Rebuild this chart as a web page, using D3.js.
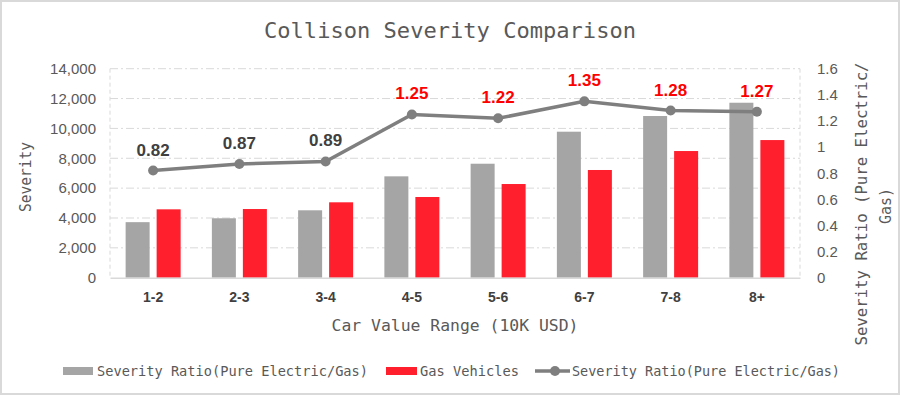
<!DOCTYPE html>
<html lang="en">
  <head>
    <meta charset="UTF-8" />
    <script src="https://d3js.org/d3.v7.min.js"></script>
    <title>Collison Severity Comparison</title>
    <style>
      body { margin: 0; background: #fff; }
    </style>
  </head>
  <body>
    <script>
      const categories = ["1-2", "2-3", "3-4", "4-5", "5-6", "6-7", "7-8", "8+"];
      const electricSeverity = [3720, 3980, 4515, 6790, 7635, 9780, 10830, 11720];
      const gasSeverity = [4580, 4600, 5050, 5405, 6275, 7215, 8485, 9220];
      const severityRatio = [0.82, 0.87, 0.89, 1.25, 1.22, 1.35, 1.28, 1.27];
      const leftTicks = [0, 2000, 4000, 6000, 8000, 10000, 12000, 14000];
      const rightTicks = [0, 0.2, 0.4, 0.6, 0.8, 1, 1.2, 1.4, 1.6];

      const W = 900, H = 395;
      const mono = "'DejaVu Sans Mono', monospace";
      const sans = "'Liberation Sans', Arial, sans-serif";
      const plot = { left: 110, right: 800, top: 68.7, bottom: 277.7 };

      let svg = d3.select("body").append("svg").attr("width", W).attr("height", H);

      svg.append("rect")
        .attr("x", 1).attr("y", 1).attr("width", W - 2).attr("height", H - 2)
        .attr("fill", "#fff").attr("stroke", "#d9d9d9").attr("stroke-width", 2);

      let x = d3.scaleBand().domain(categories).range([plot.left, plot.right]);
      let y = d3.scaleLinear().domain([0, 14000]).range([plot.bottom, plot.top]);
      let y2 = d3.scaleLinear().domain([0, 1.6]).range([plot.bottom, plot.top]);

      // gridlines
      svg.append("g").selectAll("line").data(leftTicks.slice(1)).join("line")
        .attr("x1", plot.left).attr("x2", plot.right)
        .attr("y1", d => y(d)).attr("y2", d => y(d))
        .attr("stroke", "#d9d9d9").attr("stroke-width", 1)
        .attr("stroke-dasharray", "8,3,2,3");

      // plot area side borders (dashed)
      [plot.left, plot.right].forEach(px => {
        svg.append("line")
          .attr("x1", px).attr("x2", px).attr("y1", plot.top).attr("y2", plot.bottom)
          .attr("stroke", "#d9d9d9").attr("stroke-dasharray", "4,3");
      });

      // left axis labels
      let yAxis = d3.axisLeft(y).tickValues(leftTicks).tickSize(0).tickPadding(14)
        .tickFormat(d3.format(","));
      let gy = svg.append("g").attr("transform", `translate(${plot.left},0)`).call(yAxis);
      gy.select(".domain").remove();
      gy.selectAll("text").attr("fill", "#595959").style("font", `15px ${sans}`);

      // right axis labels
      let y2Axis = d3.axisRight(y2).tickValues(rightTicks).tickSize(0).tickPadding(17)
        .tickFormat(d => d3.format("")(+d.toFixed(1)));
      let gy2 = svg.append("g").attr("transform", `translate(${plot.right},0)`).call(y2Axis);
      gy2.select(".domain").remove();
      gy2.selectAll("text").attr("fill", "#595959").style("font", `15px ${sans}`);

      // bars
      const barW = 24, gap = 7;
      let groups = svg.append("g").selectAll("g").data(categories).join("g")
        .attr("transform", d => `translate(${x(d) + x.bandwidth() / 2},0)`);
      groups.append("rect")
        .attr("x", -gap / 2 - barW)
        .attr("width", barW)
        .attr("y", (d, i) => y(electricSeverity[i]))
        .attr("height", (d, i) => plot.bottom - y(electricSeverity[i]))
        .attr("fill", "#a5a5a5");
      groups.append("rect")
        .attr("x", gap / 2)
        .attr("width", barW)
        .attr("y", (d, i) => y(gasSeverity[i]))
        .attr("height", (d, i) => plot.bottom - y(gasSeverity[i]))
        .attr("fill", "#ff1f2d");

      // x axis
      let xAxis = d3.axisBottom(x).tickSize(0).tickPadding(14);
      let gx = svg.append("g").attr("transform", `translate(0,${plot.bottom})`).call(xAxis);
      gx.select(".domain").attr("stroke", "#d9d9d9").attr("stroke-width", 1.5);
      gx.selectAll("text").attr("fill", "#404040")
        .style("font", `bold 14px ${sans}`);

      // ratio line
      let cx = d => x(d) + x.bandwidth() / 2;
      let line = d3.line().x((d, i) => cx(categories[i])).y(d => y2(d));
      svg.append("path").datum(severityRatio)
        .attr("d", line).attr("fill", "none")
        .attr("stroke", "#7f7f7f").attr("stroke-width", 3.5);
      svg.append("g").selectAll("circle").data(severityRatio).join("circle")
        .attr("cx", (d, i) => cx(categories[i])).attr("cy", d => y2(d))
        .attr("r", 5).attr("fill", "#7f7f7f");
      svg.append("g").selectAll("text").data(severityRatio).join("text")
        .attr("x", (d, i) => cx(categories[i]))
        .attr("y", d => y2(d) - 15)
        .attr("text-anchor", "middle")
        .attr("fill", d => (d >= 1 ? "#ff0000" : "#404040"))
        .style("font", `bold 17px ${sans}`)
        .text(d => d.toFixed(2));

      // title
      svg.append("text")
        .attr("x", 450).attr("y", 38).attr("text-anchor", "middle")
        .attr("fill", "#595959").style("font", `22px ${mono}`)
        .attr("textLength", 372).attr("lengthAdjust", "spacingAndGlyphs")
        .text("Collison Severity Comparison");

      // axis titles
      svg.append("text")
        .attr("x", 455).attr("y", 331).attr("text-anchor", "middle")
        .attr("fill", "#595959").style("font", `16px ${mono}`)
        .attr("textLength", 247).attr("lengthAdjust", "spacingAndGlyphs")
        .text("Car Value Range (10K USD)");

      svg.append("text")
        .attr("transform", "translate(31,177) rotate(-90)")
        .attr("text-anchor", "middle")
        .attr("fill", "#595959").style("font", `15px ${mono}`)
        .attr("textLength", 70).attr("lengthAdjust", "spacingAndGlyphs")
        .text("Severity");

      svg.append("text")
        .attr("transform", "translate(867,204) rotate(-90)")
        .attr("text-anchor", "middle")
        .attr("fill", "#595959").style("font", `16px ${mono}`)
        .attr("textLength", 283).attr("lengthAdjust", "spacingAndGlyphs")
        .text("Severity Ratio (Pure Electric/");
      svg.append("text")
        .attr("transform", "translate(891,206) rotate(-90)")
        .attr("text-anchor", "middle")
        .attr("fill", "#595959").style("font", `16px ${mono}`)
        .attr("textLength", 36).attr("lengthAdjust", "spacingAndGlyphs")
        .text("Gas)");

      // legend
      let lg = svg.append("g").attr("transform", "translate(0,371)");
      lg.append("rect").attr("x", 63).attr("y", -4).attr("width", 30).attr("height", 8).attr("fill", "#a5a5a5");
      lg.append("text").attr("x", 97).attr("y", 5).attr("fill", "#595959")
        .style("font", `14px ${mono}`).attr("textLength", 271).attr("lengthAdjust", "spacingAndGlyphs")
        .text("Severity Ratio(Pure Electric/Gas)");
      lg.append("rect").attr("x", 386).attr("y", -4).attr("width", 31).attr("height", 8).attr("fill", "#ff1f2d");
      lg.append("text").attr("x", 420).attr("y", 5).attr("fill", "#595959")
        .style("font", `14px ${mono}`).attr("textLength", 99).attr("lengthAdjust", "spacingAndGlyphs")
        .text("Gas Vehicles");
      lg.append("line").attr("x1", 535).attr("x2", 570).attr("y1", 0).attr("y2", 0)
        .attr("stroke", "#7f7f7f").attr("stroke-width", 3.5);
      lg.append("circle").attr("cx", 555).attr("cy", 0).attr("r", 5).attr("fill", "#7f7f7f");
      lg.append("text").attr("x", 572).attr("y", 5).attr("fill", "#595959")
        .style("font", `14px ${mono}`).attr("textLength", 268).attr("lengthAdjust", "spacingAndGlyphs")
        .text("Severity Ratio(Pure Electric/Gas)");
    </script>
  </body>
</html>
